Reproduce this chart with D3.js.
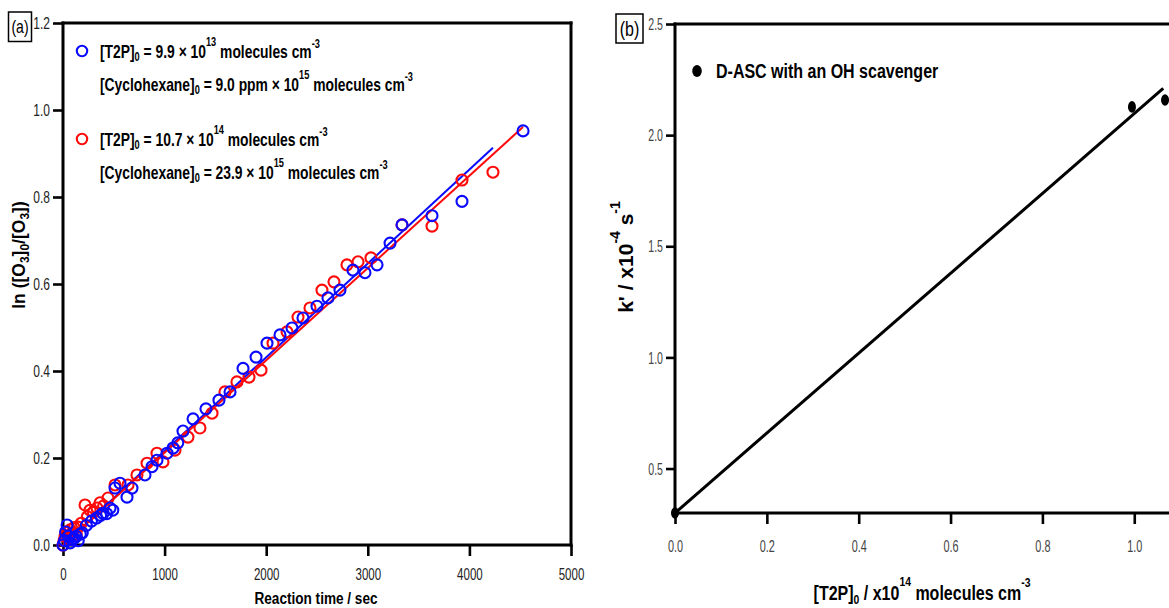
<!DOCTYPE html>
<html><head><meta charset="utf-8">
<script src="https://cdn.jsdelivr.net/npm/d3@7"></script>
<style>html,body{margin:0;padding:0;background:#fff;} svg{display:block;font-family:"Liberation Sans",Arial,sans-serif;}</style>
</head><body><svg id="c" width="1169" height="608"></svg>
<script>
// ---------- Panel (a) data ----------
const blueTime = [0,15,25,40,55,70,90,110,130,150,170,190,230,280,330,370,394,430,463,490,
  512,561,630,679,807,876,925,1024,1083,1130,1181,1280,1407,1535,1644,1772,1900,2008,2136,2254,
  2362,2500,2608,2726,2854,2972,3091,3219,3337,3632,3927,4528];
const blueLn = [0.0,0.01,0.03,0.046,0.02,0.005,0.012,0.015,0.02,0.01,0.025,0.028,0.045,0.055,0.062,0.068,0.073,0.072,0.085,0.08,
  0.131,0.142,0.11,0.131,0.161,0.18,0.195,0.211,0.223,0.235,0.262,0.29,0.313,0.333,0.352,0.406,0.432,0.464,0.483,0.499,
  0.522,0.549,0.568,0.586,0.632,0.626,0.644,0.694,0.736,0.757,0.79,0.952];
const redTime = [0,10,20,35,50,70,89,110,130,148,180,217,240,266,300,335,364,400,443,
  512,640,728,827,925,984,1102,1230,1348,1467,1594,1712,1831,1949,2067,2205,2313,2431,2549,2667,
  2795,2904,3031,3337,3632,3927,4232];
const redLn = [0.0,0.01,0.02,0.03,0.015,0.035,0.028,0.04,0.025,0.041,0.05,0.092,0.065,0.08,0.075,0.085,0.097,0.09,0.108,
  0.138,0.138,0.161,0.188,0.211,0.191,0.218,0.248,0.269,0.303,0.352,0.375,0.386,0.402,0.464,0.49,0.524,0.545,0.586,0.605,
  0.644,0.651,0.66,0.736,0.733,0.839,0.857];
const blueFitTime = [0, 4232];
const blueFitLn = [0, 0.913];
const redFitTime = [0, 4528];
const redFitLn = [0, 0.961];
const aXTicks = [0,1000,2000,3000,4000,5000];
const aYTicks = [0.0,0.2,0.4,0.6,0.8,1.0,1.2];
const aLegend1 = [{t:"[T2P]"},{t:"0",sub:3},{t:" = 9.9 × 10"},{t:"13",sup:12},{t:" molecules cm"},{t:"-3",sup:10}];
const aLegend2 = [{t:"[Cyclohexane]"},{t:"0",sub:3},{t:" = 9.0 ppm × 10"},{t:"15",sup:12},{t:" molecules cm"},{t:"-3",sup:10}];
const aLegend3 = [{t:"[T2P]"},{t:"0",sub:3},{t:" = 10.7 × 10"},{t:"14",sup:12},{t:" molecules cm"},{t:"-3",sup:10}];
const aLegend4 = [{t:"[Cyclohexane]"},{t:"0",sub:3},{t:" = 23.9 × 10"},{t:"15",sup:12},{t:" molecules cm"},{t:"-3",sup:10}];

// ---------- Panel (b) data ----------
const bConc = [0.0, 0.995, 1.067];
const bK = [0.30, 2.127, 2.158];
const bFitConc = [0.0, 1.063];
const bFitK = [0.30, 2.21];
const bXTicks = [0.0,0.2,0.4,0.6,0.8,1.0];
const bYTicks = [0.5,1.0,1.5,2.0,2.5];

const svg = d3.select('#c');

function rich(parent, x, y, segs, o) {
  const size = o.size, sx = o.sx || 1;
  const t = parent.append('text')
    .attr('transform', `translate(${x},${y})${o.rotate ? ` rotate(${o.rotate})` : ''} scale(${sx},1)`)
    .attr('font-size', size).attr('font-weight', o.weight || 'normal')
    .attr('text-anchor', o.anchor || 'start').attr('fill', o.fill || '#000');
  let cur = 0;
  segs.forEach(s => {
    const off = s.sup ? -s.sup : (s.sub ? s.sub : 0);
    const ts = t.append('tspan').text(s.t).attr('dy', off - cur);
    if (s.sup || s.sub) ts.attr('font-size', o.small || size * 0.68);
    cur = off;
  });
  return t;
}

function styleAxis(g, o) {
  g.select('.domain').remove();
  g.selectAll('.tick line').attr('stroke', '#000').attr('stroke-width', 2.6);
  g.selectAll('.tick text')
    .attr('x', null).attr('y', null).attr('dy', o.dy)
    .attr('font-size', o.size).attr('fill', o.fill)
    .attr('font-family', '"Liberation Sans",Arial,sans-serif')
    .attr('transform', `translate(${o.tx},${o.ty}) scale(${o.sx},1)`);
}

// ================= Panel (a) =================
const xA = d3.scaleLinear().domain([0, 5000]).range([63, 571]);
const yA = d3.scaleLinear().domain([0, 1.2]).range([545, 23]);
const gA = svg.append('g');

gA.append('g').attr('transform', `translate(0,${yA(0)})`)
  .call(d3.axisBottom(xA).tickValues(aXTicks).tickFormat(d3.format('d')).tickSize(11))
  .call(g => styleAxis(g, {size: 16, fill: '#222', sx: 0.72, tx: 0, ty: 35, dy: 0}));
gA.append('g').attr('transform', `translate(${xA(0)},0)`)
  .call(d3.axisLeft(yA).tickValues(aYTicks).tickFormat(d3.format('.1f')).tickSize(10))
  .call(g => styleAxis(g, {size: 16, fill: '#222', sx: 0.75, tx: -13, ty: 0, dy: '0.35em'}));

// frame
const frameA = [[0,0,0,1.2],[0,1.2,5000,1.2],[5000,1.2,5000,0],[0,0,5000,0]];
gA.selectAll('line.frame').data(frameA).join('line')
  .attr('x1', d => xA(d[0])).attr('y1', d => yA(d[1])).attr('x2', d => xA(d[2])).attr('y2', d => yA(d[3]))
  .attr('stroke', '#000').attr('stroke-width', 3).attr('stroke-linecap', 'square');

// fits
const lineA = d3.line().x(d => xA(d[0])).y(d => yA(d[1]));
gA.append('path').attr('d', lineA(d3.zip(blueFitTime, blueFitLn)))
  .attr('stroke', '#0a0aff').attr('stroke-width', 2).attr('fill', 'none');
gA.append('path').attr('d', lineA(d3.zip(redFitTime, redFitLn)))
  .attr('stroke', '#ff0a0a').attr('stroke-width', 2).attr('fill', 'none');

// points
gA.append('g').selectAll('circle').data(d3.zip(redTime, redLn)).join('circle')
  .attr('cx', d => xA(d[0])).attr('cy', d => yA(d[1])).attr('r', 5.5)
  .attr('fill', 'none').attr('stroke', '#ff0a0a').attr('stroke-width', 2.1);
gA.append('g').selectAll('circle').data(d3.zip(blueTime, blueLn)).join('circle')
  .attr('cx', d => xA(d[0])).attr('cy', d => yA(d[1])).attr('r', 5.5)
  .attr('fill', 'none').attr('stroke', '#0a0aff').attr('stroke-width', 2.1);

// legend (a)
gA.append('circle').attr('cx', 82).attr('cy', 51).attr('r', 5.2).attr('fill', 'none').attr('stroke', '#0a0aff').attr('stroke-width', 2.1);
gA.append('circle').attr('cx', 82).attr('cy', 139).attr('r', 5.2).attr('fill', 'none').attr('stroke', '#ff0a0a').attr('stroke-width', 2.1);
const legO = {size: 18, weight: 'bold', sx: 0.77, small: 12};
rich(gA, 100, 58, aLegend1, legO);
rich(gA, 100, 91, aLegend2, legO);
rich(gA, 100, 146, aLegend3, legO);
rich(gA, 100, 179, aLegend4, legO);

// axis titles (a)
rich(gA, 316, 604, [{t: 'Reaction time / sec'}], {size: 17, weight: 'bold', sx: 0.8, anchor: 'middle'});
rich(gA, 25, 255, [{t:'ln ([O'},{t:'3',sub:4},{t:']'},{t:'0',sub:4},{t:'/[O'},{t:'3',sub:4},{t:'])'}],
  {size: 17.5, weight: 'bold', anchor: 'middle', rotate: -90, small: 12});

// panel label (a)
gA.append('rect').attr('x', 8.5).attr('y', 12).attr('width', 23).attr('height', 29.5)
  .attr('fill', 'none').attr('stroke', '#000').attr('stroke-width', 1.5);
rich(gA, 20, 33, [{t: '(a)'}], {size: 18, sx: 0.78, anchor: 'middle'});

// ================= Panel (b) =================
const xB = d3.scaleLinear().domain([0, 1.08]).range([675, 1171]);
const yB = d3.scaleLinear().domain([0.3, 2.5]).range([513, 24]);
const gB = svg.append('g');

gB.append('g').attr('transform', `translate(0,${yB(0.3)})`)
  .call(d3.axisBottom(xB).tickValues(bXTicks).tickFormat(d3.format('.1f')).tickSize(11))
  .call(g => styleAxis(g, {size: 17, fill: '#444', sx: 0.64, tx: 0, ty: 39, dy: 0}));
gB.append('g').attr('transform', `translate(${xB(0)},0)`)
  .call(d3.axisLeft(yB).tickValues(bYTicks).tickFormat(d3.format('.1f')).tickSize(9))
  .call(g => styleAxis(g, {size: 16, fill: '#444', sx: 0.66, tx: -12, ty: 0, dy: '0.35em'}));

const frameB = [[0,0.3,0,2.5],[0,2.5,1.08,2.5],[0,0.3,1.08,0.3]];
gB.selectAll('line.frame').data(frameB).join('line')
  .attr('x1', d => xB(d[0])).attr('y1', d => yB(d[1])).attr('x2', d => xB(d[2])).attr('y2', d => yB(d[3]))
  .attr('stroke', '#000').attr('stroke-width', 3).attr('stroke-linecap', 'square');

const lineB = d3.line().x(d => xB(d[0])).y(d => yB(d[1]));
gB.append('path').attr('d', lineB(d3.zip(bFitConc, bFitK)))
  .attr('stroke', '#000').attr('stroke-width', 3).attr('fill', 'none');

gB.append('g').selectAll('ellipse').data(d3.zip(bConc, bK)).join('ellipse')
  .attr('cx', d => xB(d[0])).attr('cy', d => yB(d[1])).attr('rx', 4).attr('ry', 5.8).attr('fill', '#000');

// legend (b)
gB.append('ellipse').attr('cx', 697).attr('cy', 71).attr('rx', 4.8).attr('ry', 6).attr('fill', '#000');
rich(gB, 716, 78, [{t: 'D-ASC with an OH scavenger'}], {size: 20, weight: 'bold', sx: 0.8});

// axis titles (b)
rich(gB, 922, 600, [{t:'[T2P]'},{t:'0',sub:4},{t:' / x10'},{t:'14',sup:14},{t:'  molecules cm'},{t:'-3',sup:13}],
  {size: 20, weight: 'bold', sx: 0.8, anchor: 'middle', small: 13});
rich(gB, 633, 257, [{t:"k' / x10"},{t:'-4',sup:13},{t:'  s'},{t:'-1',sup:13}],
  {size: 21, weight: 'bold', anchor: 'middle', rotate: -90, small: 14});

// panel label (b)
gB.append('rect').attr('x', 616).attr('y', 14).attr('width', 27).attr('height', 29)
  .attr('fill', 'none').attr('stroke', '#000').attr('stroke-width', 1.5);
rich(gB, 629.5, 36, [{t: '(b)'}], {size: 20, sx: 0.8, anchor: 'middle'});
</script>
</body></html>
